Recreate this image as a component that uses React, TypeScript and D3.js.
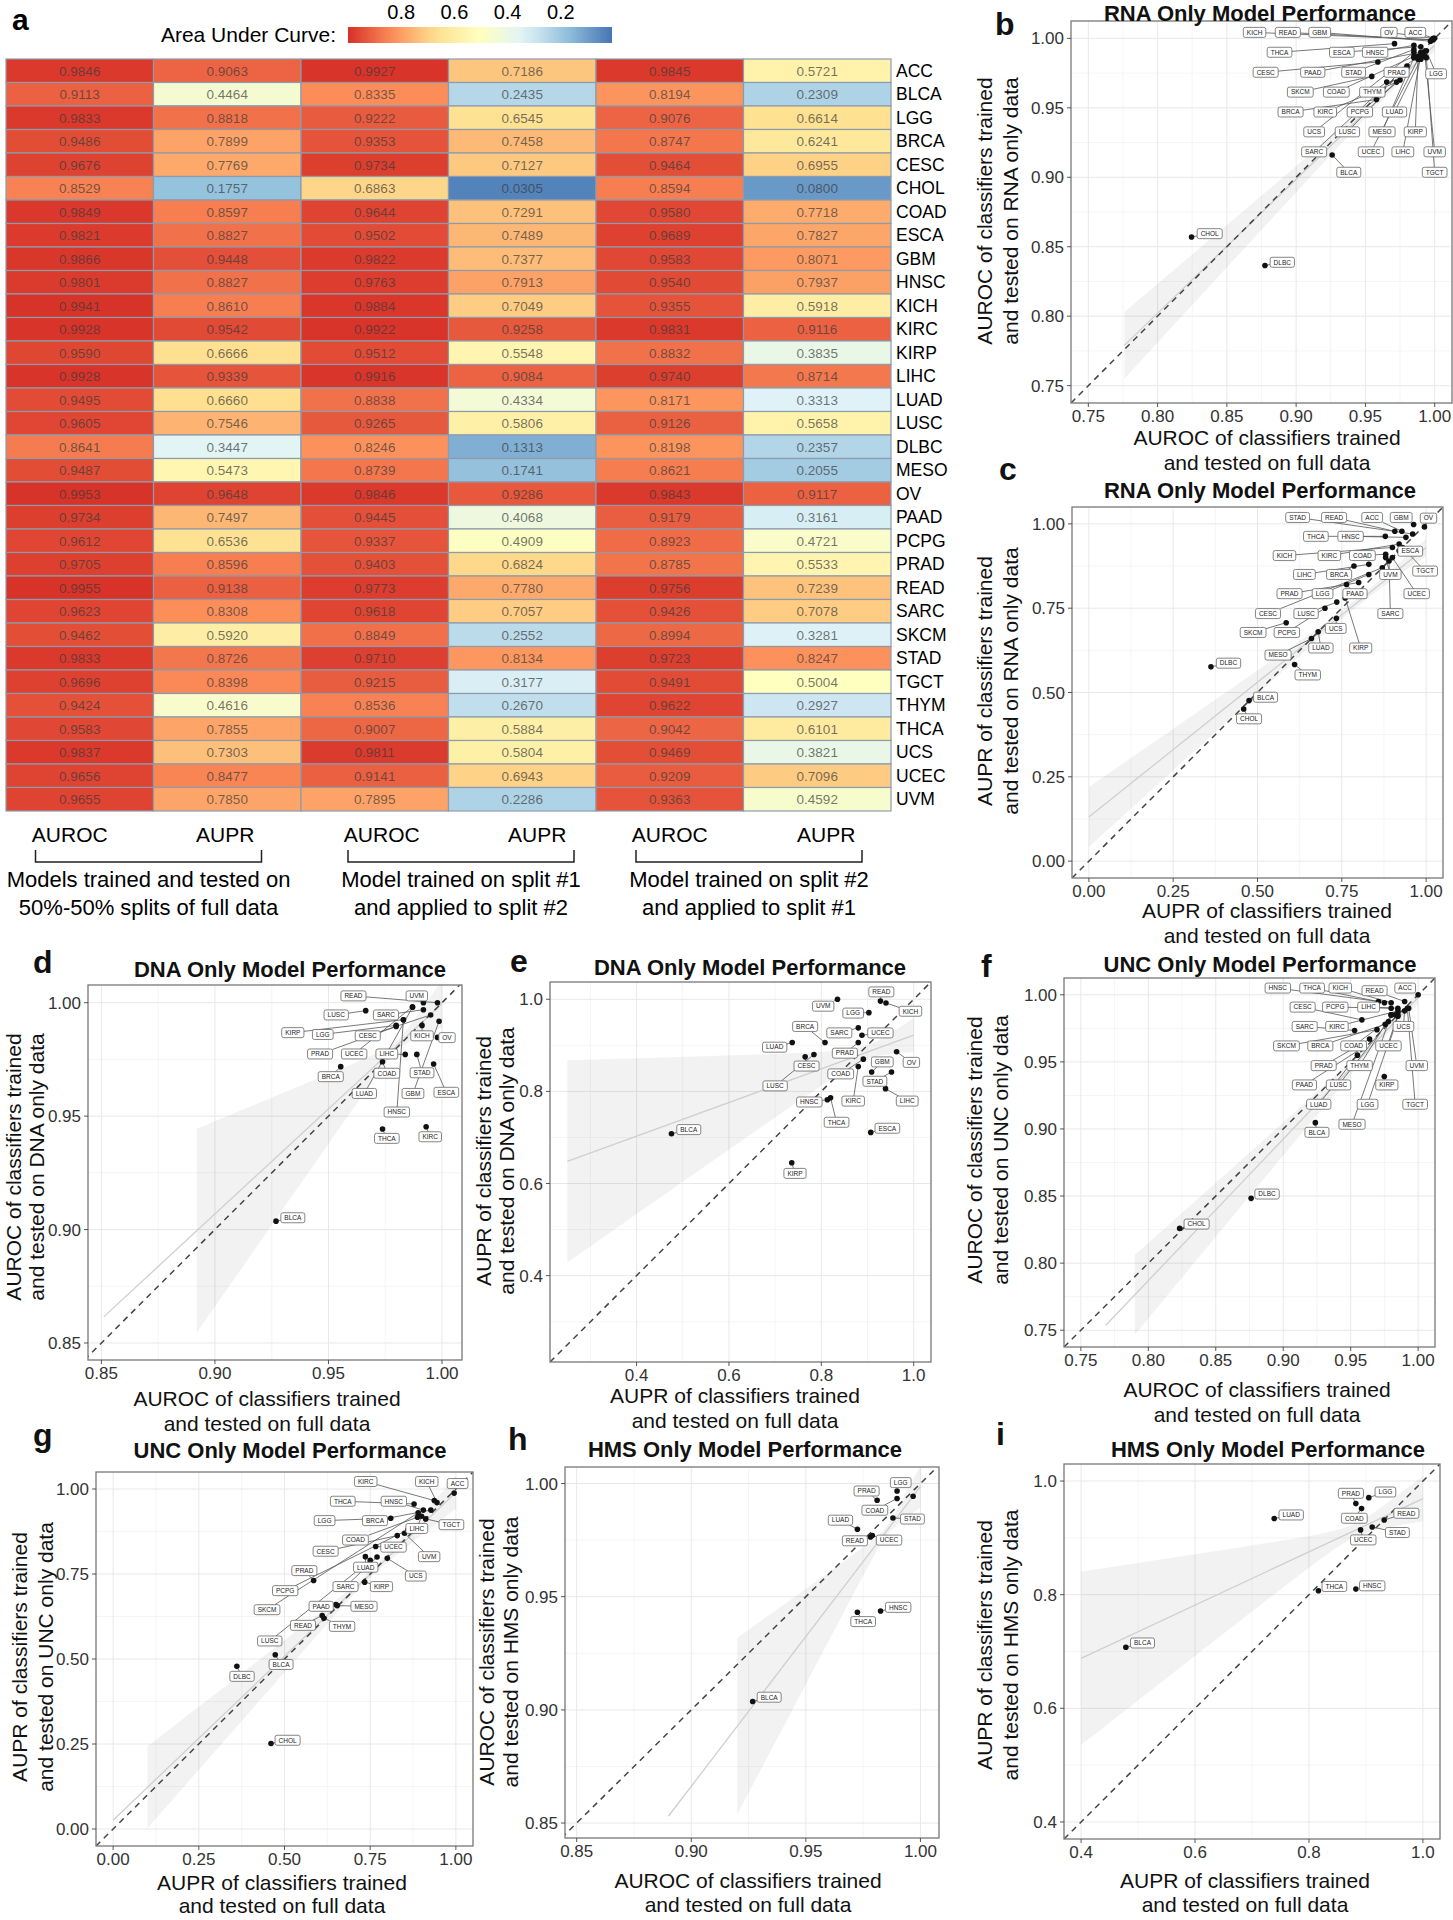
import React from "react";
import * as d3 from "d3";

const FONT = "'Liberation Sans', Arial, Helvetica, sans-serif";

// ---------------- Panel a data ----------------
const CANCER_TYPES = ["ACC","BLCA","LGG","BRCA","CESC","CHOL","COAD","ESCA","GBM","HNSC","KICH","KIRC","KIRP","LIHC","LUAD","LUSC","DLBC","MESO","OV","PAAD","PCPG","PRAD","READ","SARC","SKCM","STAD","TGCT","THYM","THCA","UCS","UCEC","UVM"];
const SPLIT_AUROC = [0.9846,0.9113,0.9833,0.9486,0.9676,0.8529,0.9849,0.9821,0.9866,0.9801,0.9941,0.9928,0.9590,0.9928,0.9495,0.9605,0.8641,0.9487,0.9953,0.9734,0.9612,0.9705,0.9955,0.9623,0.9462,0.9833,0.9696,0.9424,0.9583,0.9837,0.9656,0.9655];
const SPLIT_AUPR = [0.9063,0.4464,0.8818,0.7899,0.7769,0.1757,0.8597,0.8827,0.9448,0.8827,0.8610,0.9542,0.6666,0.9339,0.6660,0.7546,0.3447,0.5473,0.9648,0.7497,0.6536,0.8596,0.9138,0.8308,0.5920,0.8726,0.8398,0.4616,0.7855,0.7303,0.8477,0.7850];
const S1_TO_S2_AUROC = [0.9927,0.8335,0.9222,0.9353,0.9734,0.6863,0.9644,0.9502,0.9822,0.9763,0.9884,0.9922,0.9512,0.9916,0.8838,0.9265,0.8246,0.8739,0.9846,0.9445,0.9337,0.9403,0.9773,0.9618,0.8849,0.9710,0.9215,0.8536,0.9007,0.9811,0.9141,0.7895];
const S1_TO_S2_AUPR = [0.7186,0.2435,0.6545,0.7458,0.7127,0.0305,0.7291,0.7489,0.7377,0.7913,0.7049,0.9258,0.5548,0.9084,0.4334,0.5806,0.1313,0.1741,0.9286,0.4068,0.4909,0.6824,0.7780,0.7057,0.2552,0.8134,0.3177,0.2670,0.5884,0.5804,0.6943,0.2286];
const S2_TO_S1_AUROC = [0.9845,0.8194,0.9076,0.8747,0.9464,0.8594,0.9580,0.9689,0.9583,0.9540,0.9355,0.9831,0.8832,0.9740,0.8171,0.9126,0.8198,0.8621,0.9843,0.9179,0.8923,0.8785,0.9756,0.9426,0.8994,0.9723,0.9491,0.9622,0.9042,0.9469,0.9209,0.9363];
const S2_TO_S1_AUPR = [0.5721,0.2309,0.6614,0.6241,0.6955,0.0800,0.7718,0.7827,0.8071,0.7937,0.5918,0.9116,0.3835,0.8714,0.3313,0.5658,0.2357,0.2055,0.9117,0.3161,0.4721,0.5533,0.7239,0.7078,0.3281,0.8247,0.5004,0.2927,0.6101,0.3821,0.7096,0.4592];
const METRIC_LABELS = ["AUROC","AUPR","AUROC","AUPR","AUROC","AUPR"];
const GROUP_LABELS = [
  ["Models trained and tested on", "50%-50% splits of full data"],
  ["Model trained on split #1", "and applied to split #2"],
  ["Model trained on split #2", "and applied to split #1"],
];
const LEGEND_TICKS = [0.8, 0.6, 0.4, 0.2];
const PALETTE = ["#d73027","#fc8d59","#fee090","#ffffbf","#e0f3f8","#91bfdb","#4575b4"];

// ---------------- Scatter panels data ----------------
// b: RNA only, AUROC
const B_NAMES = ["KICH","READ","GBM","OV","ACC","THCA","ESCA","HNSC","CESC","PAAD","STAD","PRAD","LGG","SKCM","COAD","THYM","BRCA","KIRC","PCPG","LUAD","UCS","LUSC","MESO","KIRP","SARC","UCEC","LIHC","UVM","BLCA","TGCT","CHOL","DLBC"];
const B_FULL = [0.999,0.998,0.997,0.999,1.0,0.971,0.99,0.985,0.959,0.99,0.985,0.992,0.994,0.9546,0.985,0.9654,0.958,0.9725,0.975,0.99,0.985,0.978,0.985,0.988,0.98,0.988,0.99,0.993,0.926,0.994,0.8245,0.8775];
const B_ONLY = [0.999,0.999,0.998,1.0,1.0,0.9962,0.994,0.995,0.983,0.99,0.992,0.99,0.991,0.9726,0.987,0.9685,0.956,0.9685,0.97,0.985,0.99,0.975,0.986,0.987,0.98,0.985,0.988,0.987,0.916,0.986,0.857,0.8365];
const B_LX = [0.870,0.894,0.917,0.967,0.986,0.888,0.933,0.957,0.878,0.912,0.9415,0.9725,1.001,0.903,0.929,0.955,0.896,0.921,0.946,0.971,0.913,0.937,0.962,0.986,0.913,0.954,0.977,1.0,0.938,1.0,0.8376,0.890];
const B_LY = [1.0043,1.0043,1.0043,1.0043,1.0043,0.990,0.990,0.990,0.9756,0.9756,0.9756,0.9756,0.9745,0.9613,0.9613,0.9613,0.947,0.947,0.947,0.947,0.9327,0.9327,0.9327,0.9327,0.9183,0.9183,0.9183,0.9183,0.9036,0.9036,0.8594,0.8388];

// c: RNA only, AUPR
const C_NAMES = ["STAD","READ","ACC","GBM","OV","THCA","HNSC","KICH","KIRC","COAD","ESCA","LIHC","BRCA","UVM","TGCT","PRAD","LGG","PAAD","UCEC","CESC","LUSC","SARC","SKCM","PCPG","UCS","LUAD","KIRP","MESO","THYM","DLBC","BLCA","CHOL"];
const C_FULL = [0.96,0.907,0.928,0.963,0.995,0.879,0.94,0.90,0.92,0.88,0.92,0.83,0.786,0.88,0.93,0.80,0.83,0.764,0.90,0.87,0.735,0.89,0.585,0.70,0.734,0.68,0.76,0.66,0.61,0.362,0.475,0.459];
const C_ONLY = [0.97,0.978,0.978,0.998,0.991,0.963,0.96,0.93,0.94,0.91,0.92,0.88,0.875,0.90,0.93,0.826,0.85,0.82,0.90,0.87,0.768,0.89,0.707,0.75,0.72,0.68,0.78,0.66,0.583,0.576,0.476,0.451];
const C_LX = [0.619,0.727,0.84,0.926,1.007,0.673,0.776,0.58,0.713,0.811,0.953,0.639,0.742,0.894,0.997,0.595,0.693,0.789,0.972,0.531,0.644,0.894,0.487,0.587,0.732,0.688,0.806,0.561,0.649,0.414,0.524,0.475];
const C_LY = [1.019,1.019,1.019,1.019,1.017,0.963,0.963,0.906,0.906,0.906,0.919,0.85,0.85,0.85,0.86,0.793,0.793,0.793,0.793,0.734,0.734,0.734,0.678,0.678,0.69,0.632,0.632,0.611,0.552,0.587,0.486,0.422];

// d: DNA only, AUROC
const D_NAMES = ["READ","UVM","LUSC","SARC","KIRP","LGG","CESC","KICH","OV","PRAD","UCEC","LIHC","BRCA","COAD","STAD","LUAD","GBM","ESCA","HNSC","THCA","KIRC","BLCA"];
const D_FULL = [0.998,0.9918,0.9664,0.9918,0.983,0.9798,0.995,0.9912,0.998,0.9798,0.987,0.9838,0.9554,0.9738,0.9889,0.987,0.9987,0.9963,0.983,0.9738,0.993,0.9269];
const D_ONLY = [1.0,1.0,0.9965,0.9969,0.9925,0.990,0.9946,0.990,0.9847,0.9895,0.9982,0.9772,0.9718,0.974,0.9772,0.998,0.9918,0.973,0.9925,0.9443,0.9453,0.9037];
const D_LX = [0.961,0.9889,0.9534,0.9753,0.9343,0.9475,0.9673,0.9912,1.0022,0.9463,0.9613,0.9757,0.951,0.9757,0.9912,0.9658,0.9872,1.0019,0.9801,0.9757,0.9948,0.9343];
const D_LY = [1.003,1.003,0.9946,0.9946,0.9868,0.986,0.9854,0.9854,0.9846,0.9774,0.9774,0.9774,0.9674,0.9689,0.9691,0.96,0.96,0.9605,0.9518,0.9402,0.9409,0.9052];

// e: DNA only, AUPR
const E_NAMES = ["READ","KICH","UVM","LGG","BRCA","SARC","UCEC","LUAD","PRAD","CESC","LUSC","GBM","OV","COAD","STAD","KIRC","LIHC","HNSC","THCA","ESCA","BLCA","KIRP"];
const E_FULL = [0.928,0.94,0.835,0.903,0.808,0.88,0.888,0.737,0.88,0.765,0.784,0.909,0.963,0.891,0.952,0.88,0.939,0.813,0.82,0.907,0.4755,0.736];
const E_ONLY = [0.996,0.992,1.0,0.971,0.906,0.938,0.922,0.906,0.906,0.875,0.88,0.842,0.886,0.87,0.842,0.854,0.806,0.782,0.786,0.711,0.708,0.645];
const E_LX = [0.93,0.993,0.804,0.869,0.765,0.839,0.928,0.699,0.851,0.768,0.70,0.932,0.995,0.842,0.916,0.869,0.986,0.774,0.833,0.943,0.513,0.743];
const E_LY = [1.016,0.974,0.985,0.970,0.941,0.927,0.927,0.896,0.883,0.855,0.812,0.864,0.863,0.838,0.822,0.779,0.779,0.777,0.733,0.72,0.717,0.622];

// f: UNC only, AUROC
const F_NAMES = ["HNSC","THCA","KICH","READ","ACC","CESC","PCPG","LIHC","SARC","KIRC","UCS","SKCM","BRCA","COAD","UCEC","PRAD","THYM","UVM","PAAD","LUSC","KIRP","LUAD","LGG","TGCT","MESO","BLCA","DLBC","CHOL"];
const F_FULL = [0.9706,0.975,0.98,0.99,1.0,0.9583,0.98,0.985,0.9529,0.985,0.99,0.9695,0.9756,0.983,0.985,0.964,0.98,0.993,0.958,0.978,0.9749,0.955,0.985,0.992,0.98,0.9238,0.8762,0.8232];
const F_ONLY = [0.995,0.994,0.994,0.995,1.0,0.9813,0.99,0.99,0.9734,0.988,0.988,0.974,0.978,0.985,0.984,0.967,0.985,0.99,0.96,0.98,0.939,0.955,0.985,0.99,0.985,0.9047,0.8483,0.8259];
const F_LX = [0.896,0.9214,0.9423,0.9677,0.9904,0.9144,0.9386,0.9633,0.9159,0.9398,0.9891,0.9024,0.9275,0.9522,0.978,0.93,0.9566,0.999,0.9157,0.941,0.9768,0.9263,0.9625,0.9978,0.951,0.925,0.888,0.8358];
const F_LY = [1.005,1.005,1.005,1.003,1.005,0.9908,0.9908,0.9908,0.9764,0.9764,0.9764,0.9619,0.9619,0.9619,0.9619,0.9472,0.9472,0.9472,0.9328,0.9328,0.9328,0.9184,0.9184,0.9184,0.9035,0.8975,0.8515,0.8291];

// g: UNC only, AUPR
const G_NAMES = ["KIRC","KICH","ACC","THCA","HNSC","LGG","BRCA","TGCT","COAD","LIHC","CESC","UCEC","UVM","LUAD","PRAD","UCS","PCPG","SARC","KIRP","SKCM","PAAD","MESO","READ","THYM","LUSC","BLCA","DLBC","CHOL"];
const G_FULL = [0.937,0.945,0.995,0.878,0.905,0.81,0.927,0.912,0.888,0.90,0.829,0.766,0.85,0.736,0.585,0.80,0.86,0.77,0.734,0.89,0.65,0.654,0.61,0.615,0.75,0.473,0.361,0.4606];
const G_ONLY = [0.966,0.96,0.988,0.956,0.938,0.914,0.938,0.912,0.917,0.92,0.863,0.831,0.87,0.801,0.731,0.796,0.88,0.80,0.726,0.93,0.66,0.657,0.628,0.62,0.79,0.5127,0.4784,0.2514];
const G_LX = [0.737,0.915,1.005,0.67,0.819,0.617,0.764,0.987,0.707,0.886,0.62,0.818,0.922,0.737,0.558,0.883,0.502,0.678,0.783,0.449,0.607,0.732,0.554,0.668,0.457,0.49,0.376,0.509];
const G_LY = [1.022,1.022,1.016,0.964,0.964,0.907,0.907,0.895,0.85,0.884,0.817,0.829,0.801,0.77,0.76,0.744,0.701,0.713,0.713,0.645,0.655,0.655,0.599,0.596,0.553,0.484,0.449,0.261];

// h: HMS only, AUROC
const H_NAMES = ["LGG","PRAD","COAD","STAD","LUAD","READ","UCEC","HNSC","THCA","BLCA",""];
const H_FULL = [0.9898,0.9811,0.9898,0.988,0.9725,0.9782,0.979,0.9826,0.9725,0.9268,0.9968];
const H_ONLY = [0.9967,0.9926,0.9934,0.9848,0.9798,0.9764,0.977,0.9437,0.9431,0.9037,0.9944];
const H_LX = [0.9914,0.9765,0.9801,0.9965,0.9651,0.9714,0.9863,0.9903,0.975,0.934,0];
const H_LY = [1.0004,0.9967,0.9882,0.9843,0.9838,0.9747,0.975,0.9453,0.939,0.9056,0];

// i: HMS only, AUPR
const I_NAMES = ["PRAD","LGG","READ","COAD","LUAD","STAD","UCEC","THCA","HNSC","BLCA"];
const I_FULL = [0.8823,0.905,0.932,0.8923,0.739,0.911,0.8906,0.8166,0.8823,0.4786];
const I_ONLY = [0.9603,0.9708,0.9315,0.9515,0.934,0.9192,0.914,0.8068,0.8098,0.7074];
const I_LX = [0.8736,0.9342,0.971,0.8796,0.7688,0.9552,0.8953,0.8446,0.911,0.5078];
const I_LY = [0.9784,0.9807,0.9433,0.9345,0.9403,0.9094,0.8964,0.8145,0.8156,0.715];

// ---------------- helpers ----------------
let _ctx: CanvasRenderingContext2D | null = null;
function textWidth(t: string, size: number, weight = "normal") {
  try {
    if (!_ctx) _ctx = document.createElement("canvas").getContext("2d");
    if (_ctx) {
      _ctx.font = `${weight} ${size}px 'Liberation Sans', Arial, sans-serif`;
      return _ctx.measureText(t).width;
    }
  } catch (e) {}
  return t.length * size * 0.62;
}

type Fit = { x0: number; x1: number; y0: number; y1: number; band0: number; xm: number; hwMin: number; k: number };
type PanelSpec = {
  id: string; letter: string; letterX: number; letterY: number;
  title: string; titleX: number; titleY: number;
  left: number; right: number; top: number; bottom: number;
  xDom: [number, number]; yDom: [number, number];
  ticks: number[]; fmt: string;
  xLabel: string[]; xLabelX: number; xLabelY: number; xLabelGap: number;
  yLabel: string[]; yLabelX: number; yLabelY: number; yLabelGap: number;
  names: string[]; xs: number[]; ys: number[]; lxs: number[]; lys: number[];
  fit: Fit;
};

const AX_AUROC = "AUROC of classifiers trained";
const AX_AUPR = "AUPR of classifiers trained";
const FULL2 = "and tested on full data";

const PANELS: PanelSpec[] = [
  { id: "b", letter: "b", letterX: 995, letterY: 35, title: "RNA Only Model Performance", titleX: 1260, titleY: 20.5,
    left: 1071, right: 1452, top: 21, bottom: 403, xDom: [0.7375, 1.0125], yDom: [0.7375, 1.0125],
    ticks: [0.75, 0.8, 0.85, 0.9, 0.95, 1.0], fmt: ".2f",
    xLabel: [AX_AUROC, FULL2], xLabelX: 1267, xLabelY: 445, xLabelGap: 25,
    yLabel: [AX_AUROC, "and tested on RNA only data"], yLabelX: 992, yLabelY: 211, yLabelGap: 26,
    names: B_NAMES, xs: B_FULL, ys: B_ONLY, lxs: B_LX, lys: B_LY,
    fit: { x0: 0.776, x1: 1.0, y0: 0.779, y1: 0.995, band0: 0.776, xm: 0.975, hwMin: 0.003, k: 0.12 } },
  { id: "c", letter: "c", letterX: 999, letterY: 480, title: "RNA Only Model Performance", titleX: 1260, titleY: 498,
    left: 1072, right: 1443, top: 507, bottom: 878, xDom: [-0.05, 1.05], yDom: [-0.05, 1.05],
    ticks: [0, 0.25, 0.5, 0.75, 1.0], fmt: ".2f",
    xLabel: [AX_AUPR, FULL2], xLabelX: 1267, xLabelY: 918, xLabelGap: 25,
    yLabel: [AX_AUPR, "and tested on RNA only data"], yLabelX: 992, yLabelY: 681, yLabelGap: 26,
    names: C_NAMES, xs: C_FULL, ys: C_ONLY, lxs: C_LX, lys: C_LY,
    fit: { x0: 0, x1: 1, y0: 0.131, y1: 0.93, band0: 0, xm: 0.8, hwMin: 0.012, k: 0.11 } },
  { id: "d", letter: "d", letterX: 33, letterY: 973, title: "DNA Only Model Performance", titleX: 290, titleY: 977,
    left: 88, right: 462, top: 985, bottom: 1360, xDom: [0.8441, 1.0088], yDom: [0.8425, 1.0078],
    ticks: [0.85, 0.9, 0.95, 1.0], fmt: ".2f",
    xLabel: [AX_AUROC, FULL2], xLabelX: 267, xLabelY: 1406, xLabelGap: 25,
    yLabel: [AX_AUROC, "and tested on DNA only data"], yLabelX: 21, yLabelY: 1167, yLabelGap: 23,
    names: D_NAMES, xs: D_FULL, ys: D_ONLY, lxs: D_LX, lys: D_LY,
    fit: { x0: 0.851, x1: 1.0, y0: 0.8615, y1: 0.9995, band0: 0.892, xm: 0.98, hwMin: 0.002, k: 0.51 } },
  { id: "e", letter: "e", letterX: 510, letterY: 972, title: "DNA Only Model Performance", titleX: 750, titleY: 975,
    left: 550, right: 931, top: 982, bottom: 1362, xDom: [0.2125, 1.0375], yDom: [0.2125, 1.0375],
    ticks: [0.4, 0.6, 0.8, 1.0], fmt: ".1f",
    xLabel: [AX_AUPR, FULL2], xLabelX: 735, xLabelY: 1403, xLabelGap: 25,
    yLabel: [AX_AUPR, "and tested on DNA only data"], yLabelX: 491, yLabelY: 1161, yLabelGap: 23,
    names: E_NAMES, xs: E_FULL, ys: E_ONLY, lxs: E_LX, lys: E_LY,
    fit: { x0: 0.25, x1: 1.0, y0: 0.648, y1: 0.922, band0: 0.25, xm: 0.9, hwMin: 0.015, k: 0.337 } },
  { id: "f", letter: "f", letterX: 981, letterY: 977, title: "UNC Only Model Performance", titleX: 1260, titleY: 972,
    left: 1064, right: 1435, top: 978, bottom: 1347, xDom: [0.7375, 1.0125], yDom: [0.7375, 1.0125],
    ticks: [0.75, 0.8, 0.85, 0.9, 0.95, 1.0], fmt: ".2f",
    xLabel: [AX_AUROC, FULL2], xLabelX: 1257, xLabelY: 1397, xLabelGap: 25,
    yLabel: [AX_AUROC, "and tested on UNC only data"], yLabelX: 982, yLabelY: 1150, yLabelGap: 26,
    names: F_NAMES, xs: F_FULL, ys: F_ONLY, lxs: F_LX, lys: F_LY,
    fit: { x0: 0.7685, x1: 1.0, y0: 0.7537, y1: 0.998, band0: 0.79, xm: 0.975, hwMin: 0.003, k: 0.16 } },
  { id: "g", letter: "g", letterX: 33, letterY: 1446, title: "UNC Only Model Performance", titleX: 290, titleY: 1458,
    left: 96, right: 473, top: 1472, bottom: 1846, xDom: [-0.05, 1.05], yDom: [-0.05, 1.05],
    ticks: [0, 0.25, 0.5, 0.75, 1.0], fmt: ".2f",
    xLabel: [AX_AUPR, FULL2], xLabelX: 282, xLabelY: 1890, xLabelGap: 23,
    yLabel: [AX_AUPR, "and tested on UNC only data"], yLabelX: 27, yLabelY: 1657, yLabelGap: 26,
    names: G_NAMES, xs: G_FULL, ys: G_ONLY, lxs: G_LX, lys: G_LY,
    fit: { x0: 0, x1: 1, y0: 0.026, y1: 0.99, band0: 0.1, xm: 0.75, hwMin: 0.01, k: 0.185 } },
  { id: "h", letter: "h", letterX: 508, letterY: 1450, title: "HMS Only Model Performance", titleX: 745, titleY: 1457,
    left: 565, right: 939, top: 1467, bottom: 1838, xDom: [0.8449, 1.0081], yDom: [0.8434, 1.0073],
    ticks: [0.85, 0.9, 0.95, 1.0], fmt: ".2f",
    xLabel: [AX_AUROC, FULL2], xLabelX: 748, xLabelY: 1888, xLabelGap: 24,
    yLabel: [AX_AUROC, "and tested on HMS only data"], yLabelX: 494, yLabelY: 1652, yLabelGap: 24,
    names: H_NAMES, xs: H_FULL, ys: H_ONLY, lxs: H_LX, lys: H_LY,
    fit: { x0: 0.89, x1: 1.0, y0: 0.853, y1: 0.9986, band0: 0.92, xm: 0.985, hwMin: 0.002, k: 0.6 } },
  { id: "i", letter: "i", letterX: 996, letterY: 1445, title: "HMS Only Model Performance", titleX: 1268, titleY: 1457,
    left: 1064, right: 1440, top: 1464, bottom: 1839, xDom: [0.37, 1.03], yDom: [0.37, 1.03],
    ticks: [0.4, 0.6, 0.8, 1.0], fmt: ".1f",
    xLabel: [AX_AUPR, FULL2], xLabelX: 1245, xLabelY: 1888, xLabelGap: 24,
    yLabel: [AX_AUPR, "and tested on HMS only data"], yLabelX: 992, yLabelY: 1645, yLabelGap: 26,
    names: I_NAMES, xs: I_FULL, ys: I_ONLY, lxs: I_LX, lys: I_LY,
    fit: { x0: 0.4, x1: 1.0, y0: 0.688, y1: 0.969, band0: 0.4, xm: 0.88, hwMin: 0.012, k: 0.317 } },
];

// ---------------- Heatmap ----------------
const HM = { left: 6, top: 59, colW: 147.5, rowH: 23.5 };
const HEADER_DX = [-10, -2, 7, 15, 0, 9];
const GROUP_DX = [-5, 12.5, 5.5];

function Heatmap() {
  const cols = [SPLIT_AUROC, SPLIT_AUPR, S1_TO_S2_AUROC, S1_TO_S2_AUPR, S2_TO_S1_AUROC, S2_TO_S1_AUPR];
  const color = d3.scaleLinear<string>()
    .domain([1, 5 / 6, 4 / 6, 0.5, 2 / 6, 1 / 6, 0])
    .range(PALETTE)
    .interpolate(d3.interpolateRgb);
  const x = d3.scaleBand<number>().domain(d3.range(cols.length)).range([HM.left, HM.left + HM.colW * cols.length]);
  const y = d3.scaleBand<string>().domain(CANCER_TYPES).range([HM.top, HM.top + HM.rowH * CANCER_TYPES.length]);
  const legend = d3.scaleLinear().domain([1, 0]).range([348, 614]);
  const bottom = HM.top + HM.rowH * CANCER_TYPES.length;
  const stops = d3.range(0, 1.0001, 0.05);
  const cc = (i: number) => (x(i) as number) + x.bandwidth() / 2;
  return (
    <g>
      <text x={12} y={30} fontSize={30} fontWeight="bold" fontFamily={FONT}>a</text>
      <defs>
        <linearGradient id="legGrad" x1="0" x2="1" y1="0" y2="0">
          {stops.map((t, i) => (
            <stop key={i} offset={t} stopColor={color(1 - t)} />
          ))}
        </linearGradient>
      </defs>
      <text x={336} y={42} fontSize={21} textAnchor="end" fontFamily={FONT}>Area Under Curve:</text>
      <rect x={legend(1)} y={27} width={612 - legend(1)} height={16} fill="url(#legGrad)" />
      {LEGEND_TICKS.map((t) => (
        <text key={t} x={legend(t)} y={19} fontSize={20} textAnchor="middle" fontFamily={FONT}>{t.toFixed(1)}</text>
      ))}
      {cols.map((col, ci) =>
        col.map((v, ri) => (
          <g key={ci + "-" + ri}>
            <rect x={x(ci)} y={y(CANCER_TYPES[ri])} width={x.bandwidth()} height={y.bandwidth()}
              fill={color(v)} stroke="#8e9bad" strokeWidth={1.2} />
            <text x={cc(ci)} y={(y(CANCER_TYPES[ri]) as number) + y.bandwidth() / 2 + 4.8}
              fontSize={13.5} textAnchor="middle" fill="#3a3a3a" fillOpacity={0.7} fontFamily={FONT}>{v.toFixed(4)}</text>
          </g>
        ))
      )}
      {CANCER_TYPES.map((c) => (
        <text key={c} x={HM.left + HM.colW * cols.length + 5} y={(y(c) as number) + y.bandwidth() / 2 + 6}
          fontSize={17.5} fontFamily={FONT}>{c}</text>
      ))}
      {METRIC_LABELS.map((m, i) => (
        <text key={i} x={cc(i) + HEADER_DX[i]} y={bottom + 31} fontSize={21}
          textAnchor="middle" fontFamily={FONT}>{m}</text>
      ))}
      {GROUP_LABELS.map((g, gi) => {
        const cx = (cc(gi * 2) + cc(gi * 2 + 1)) / 2 + GROUP_DX[gi];
        const x0 = cx - 113, x1 = cx + 113;
        return (
          <g key={gi}>
            <path d={`M${x0},${bottom + 39}V${bottom + 51}H${x1}V${bottom + 39}`} fill="none" stroke="#222" strokeWidth={1.5} />
            <text x={cx} y={bottom + 76} fontSize={22} textAnchor="middle" fontFamily={FONT}>{g[0]}</text>
            <text x={cx} y={bottom + 104} fontSize={22} textAnchor="middle" fontFamily={FONT}>{g[1]}</text>
          </g>
        );
      })}
    </g>
  );
}

// ---------------- Scatter panel ----------------
function ScatterPanel({ s }: { s: PanelSpec }) {
  const x = d3.scaleLinear().domain(s.xDom).range([s.left, s.right]);
  const y = d3.scaleLinear().domain(s.yDom).range([s.bottom, s.top]);
  const step = s.ticks[1] - s.ticks[0];
  const minorX = [s.ticks[0] - step / 2, ...s.ticks.map((t) => t + step / 2)].filter((v) => v > s.xDom[0] && v < s.xDom[1]);
  const minorY = [s.ticks[0] - step / 2, ...s.ticks.map((t) => t + step / 2)].filter((v) => v > s.yDom[0] && v < s.yDom[1]);
  const fmt = d3.format(s.fmt);
  const f = s.fit;
  const lineY = (v: number) => f.y0 + ((f.y1 - f.y0) * (v - f.x0)) / (f.x1 - f.x0);
  const hw = (v: number) => Math.sqrt(f.hwMin * f.hwMin + (f.k * (v - f.xm)) * (f.k * (v - f.xm)));
  const bandXs = d3.range(0, 61).map((i) => f.band0 + ((f.x1 - f.band0) * i) / 60);
  const area = d3.area<number>().x((v) => x(v)).y0((v) => y(lineY(v) - hw(v))).y1((v) => y(lineY(v) + hw(v)));
  const clipId = "clip-" + s.id;
  const dLo = Math.min(s.xDom[0], s.yDom[0]);
  const dHi = Math.max(s.xDom[1], s.yDom[1]);
  const LFS = 6.5, LH = 10, PADX = 3.5;

  const labels = s.names.map((n, i) => {
    const px = x(s.xs[i]), py = y(s.ys[i]);
    if (!n) return { n, px, py, show: false } as any;
    const w = textWidth(n, LFS) + PADX * 2;
    const cx = x(s.lxs[i]), cy = y(s.lys[i]);
    const dx = px - cx, dy = py - cy;
    let seg: number[] | null = null;
    if (Math.abs(dx) > 0.01 || Math.abs(dy) > 0.01) {
      const tx = dx !== 0 ? (w / 2) / Math.abs(dx) : Infinity;
      const ty = dy !== 0 ? (LH / 2) / Math.abs(dy) : Infinity;
      const t = Math.min(tx, ty);
      if (t < 1) {
        const ex = cx + dx * t, ey = cy + dy * t;
        const len = Math.hypot(px - ex, py - ey);
        if (len > 4) {
          const sh = 2.5 / len;
          seg = [ex, ey, px - (px - ex) * sh, py - (py - ey) * sh];
        }
      }
    }
    return { n, px, py, w, cx, cy, seg, show: true };
  });

  return (
    <g fontFamily={FONT}>
      <defs>
        <clipPath id={clipId}>
          <rect x={s.left} y={s.top} width={s.right - s.left} height={s.bottom - s.top} />
        </clipPath>
      </defs>
      <rect x={s.left} y={s.top} width={s.right - s.left} height={s.bottom - s.top} fill="#fff" />
      {minorX.map((v) => (
        <line key={"mx" + v} x1={x(v)} x2={x(v)} y1={s.top} y2={s.bottom} stroke="#f3f3f3" strokeWidth={0.8} />
      ))}
      {minorY.map((v) => (
        <line key={"my" + v} y1={y(v)} y2={y(v)} x1={s.left} x2={s.right} stroke="#f3f3f3" strokeWidth={0.8} />
      ))}
      {s.ticks.map((v) => (
        <line key={"gx" + v} x1={x(v)} x2={x(v)} y1={s.top} y2={s.bottom} stroke="#e8e8e8" strokeWidth={1} />
      ))}
      {s.ticks.map((v) => (
        <line key={"gy" + v} y1={y(v)} y2={y(v)} x1={s.left} x2={s.right} stroke="#e8e8e8" strokeWidth={1} />
      ))}
      <g clipPath={`url(#${clipId})`}>
        <path d={area(bandXs) || ""} fill="#000" fillOpacity={0.05} />
        <line x1={x(f.x0)} y1={y(lineY(f.x0))} x2={x(f.x1)} y2={y(lineY(f.x1))} stroke="#cfcfcf" strokeWidth={1.3} />
        <line x1={x(dLo)} y1={y(dLo)} x2={x(dHi)} y2={y(dHi)} stroke="#444" strokeWidth={1.5} strokeDasharray="6,5" />
        {labels.map((l: any, i: number) =>
          l.show && l.seg ? (
            <line key={"s" + i} x1={l.seg[0]} y1={l.seg[1]} x2={l.seg[2]} y2={l.seg[3]} stroke="#555" strokeWidth={0.8} />
          ) : null
        )}
        {labels.map((l: any, i: number) => (
          <circle key={"p" + i} cx={l.px} cy={l.py} r={2.8} fill="#111" />
        ))}
        {labels.map((l: any, i: number) =>
          l.show ? (
            <g key={"l" + i}>
              <rect x={l.cx - l.w / 2} y={l.cy - LH / 2} width={l.w} height={LH} rx={2} ry={2}
                fill="#fff" stroke="#666" strokeWidth={0.8} />
              <text x={l.cx} y={l.cy + 2.3} fontSize={LFS} textAnchor="middle" fill="#222">{l.n}</text>
            </g>
          ) : null
        )}
      </g>
      <rect x={s.left} y={s.top} width={s.right - s.left} height={s.bottom - s.top} fill="none" stroke="#777" strokeWidth={1.3} />
      {s.ticks.map((v) => (
        <g key={"tx" + v}>
          <line x1={x(v)} x2={x(v)} y1={s.bottom} y2={s.bottom + 4} stroke="#444" strokeWidth={0.9} />
          <text x={x(v)} y={s.bottom + 19} fontSize={17} textAnchor="middle" fill="#333">{fmt(v)}</text>
        </g>
      ))}
      {s.ticks.map((v) => (
        <g key={"ty" + v}>
          <line x1={s.left - 4} x2={s.left} y1={y(v)} y2={y(v)} stroke="#444" strokeWidth={0.9} />
          <text x={s.left - 7} y={y(v) + 6} fontSize={17} textAnchor="end" fill="#333">{fmt(v)}</text>
        </g>
      ))}
      <text x={s.titleX} y={s.titleY} fontSize={22} fontWeight="bold" textAnchor="middle" fill="#111">{s.title}</text>
      <text x={s.letterX} y={s.letterY} fontSize={32} fontWeight="bold" fill="#111">{s.letter}</text>
      {s.xLabel.map((t, i) => (
        <text key={"xl" + i} x={s.xLabelX} y={s.xLabelY + i * s.xLabelGap} fontSize={21} textAnchor="middle" fill="#111">{t}</text>
      ))}
      {s.yLabel.map((t, i) => (
        <text key={"yl" + i} transform={`translate(${s.yLabelX + i * s.yLabelGap},${s.yLabelY}) rotate(-90)`}
          fontSize={21} textAnchor="middle" fill="#111">{t}</text>
      ))}
    </g>
  );
}

export default function App() {
  return (
    <svg width={1453} height={1920} viewBox="0 0 1453 1920"
      style={{ position: "absolute", left: 0, top: 0, display: "block", background: "#fff" }}>
      <rect x={0} y={0} width={1453} height={1920} fill="#fff" />
      <Heatmap />
      {PANELS.map((p) => (
        <ScatterPanel key={p.id} s={p} />
      ))}
    </svg>
  );
}
